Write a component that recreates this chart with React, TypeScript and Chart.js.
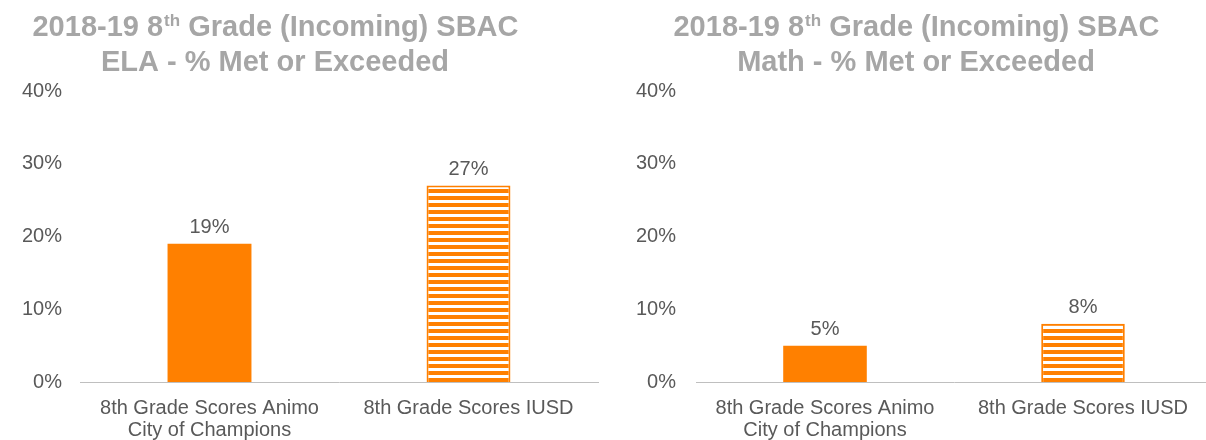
import React, { useEffect, useRef } from "react";
import { Chart, registerables } from "chart.js";

Chart.register(...registerables);

const CATEGORIES: (string | string[])[] = [
  ["8th Grade Scores Animo", "City of Champions"],
  "8th Grade Scores IUSD",
];
const ELA_VALUES = [19, 27];
const MATH_VALUES = [5, 8];
const Y_MIN = 0;
const Y_MAX = 40;
const Y_STEP = 10;
const ELA_TITLE = ["2018-19 8", "th", " Grade (Incoming) SBAC", "ELA - % Met or Exceeded"];
const MATH_TITLE = ["2018-19 8", "th", " Grade (Incoming) SBAC", "Math - % Met or Exceeded"];

const ORANGE = "#FF8000";
const TITLE_GRAY = "#A6A6A6";
const TEXT_GRAY = "#595959";
const AXIS_GRAY = "#BFBFBF";
const FONT = "'Liberation Sans', Arial, sans-serif";

function makeStripes(ctx: CanvasRenderingContext2D): CanvasPattern | string {
  const c = document.createElement("canvas");
  c.width = 8;
  c.height = 7;
  const p = c.getContext("2d");
  if (!p) return ORANGE;
  p.fillStyle = "#FFFFFF";
  p.fillRect(0, 0, 8, 7);
  p.fillStyle = ORANGE;
  p.fillRect(0, 0, 8, 4);
  return ctx.createPattern(c, "repeat") || ORANGE;
}

const titlePlugin = {
  id: "supTitle",
  afterDraw(chart: any) {
    const o = chart.options.plugins.supTitle;
    if (!o) return;
    const ctx = chart.ctx;
    const [a, sup, b, line2] = o.text as string[];
    ctx.save();
    ctx.fillStyle = TITLE_GRAY;
    ctx.textBaseline = "alphabetic";
    const big = `bold 29px ${FONT}`;
    const small = `bold 17px ${FONT}`;
    ctx.font = big;
    const wa = ctx.measureText(a).width;
    const wb = ctx.measureText(b).width;
    ctx.font = small;
    const ws = ctx.measureText(sup).width;
    const total = wa + ws + wb;
    let x = o.cx - total / 2;
    ctx.textAlign = "left";
    ctx.font = big;
    ctx.fillText(a, x, o.y1);
    x += wa;
    ctx.font = small;
    ctx.fillText(sup, x + 1, o.y1 - 10);
    x += ws + 1;
    ctx.font = big;
    ctx.fillText(b, x, o.y1);
    ctx.textAlign = "center";
    ctx.fillText(line2, o.cx, o.y2);
    ctx.restore();
  },
};

const valueLabelPlugin = {
  id: "valueLabels",
  afterDatasetsDraw(chart: any) {
    const ctx = chart.ctx;
    const ds = chart.data.datasets[0];
    const meta = chart.getDatasetMeta(0);
    ctx.save();
    ctx.fillStyle = TEXT_GRAY;
    ctx.font = `20px ${FONT}`;
    ctx.textAlign = "center";
    ctx.textBaseline = "alphabetic";
    meta.data.forEach((bar: any, i: number) => {
      ctx.fillText(`${ds.data[i]}%`, bar.x, bar.y - 11);
    });
    ctx.restore();
  },
};

function BarPanel(props: {
  values: number[];
  title: string[];
  titleCx: number;
  width: number;
  yWidth: number;
  yPad: number;
  padRight: number;
}) {
  const ref = useRef<HTMLCanvasElement>(null);
  useEffect(() => {
    const canvas = ref.current;
    if (!canvas) return;
    const ctx = canvas.getContext("2d")!;
    const stripes = makeStripes(ctx);
    const chart = new Chart(canvas, {
      type: "bar",
      data: {
        labels: CATEGORIES,
        datasets: [
          {
            data: props.values,
            backgroundColor: [ORANGE, stripes as any],
            borderColor: [ORANGE, ORANGE],
            borderWidth: [0, 2],
            borderSkipped: "bottom",
            categoryPercentage: 1,
            barPercentage: 0.324,
          },
        ],
      },
      options: {
        responsive: false,
        animation: false,
        devicePixelRatio: 1,
        layout: { padding: { top: 91, left: 0, right: props.padRight, bottom: 0 } },
        plugins: {
          legend: { display: false },
          title: { display: false },
          tooltip: { enabled: false },
          supTitle: { text: props.title, cx: props.titleCx, y1: 36, y2: 71 },
        } as any,
        scales: {
          x: {
            grid: { display: false, drawTicks: false },
            border: { display: true, color: AXIS_GRAY, width: 1 },
            ticks: {
              color: TEXT_GRAY,
              font: { family: FONT, size: 20, lineHeight: 1.1 },
              padding: 15,
              maxRotation: 0,
              autoSkip: false,
            },
            afterFit: (s: any) => {
              s.height = 58;
            },
          },
          y: {
            min: Y_MIN,
            max: Y_MAX,
            grid: { display: false, drawTicks: false },
            border: { display: false },
            ticks: {
              stepSize: Y_STEP,
              color: TEXT_GRAY,
              font: { family: FONT, size: 20 },
              padding: props.yPad,
              callback: (v: any) => `${v}%`,
            },
            afterFit: (s: any) => {
              s.width = props.yWidth;
            },
          },
        },
      },
      plugins: [titlePlugin, valueLabelPlugin],
    });
    return () => chart.destroy();
  }, []);
  return <canvas ref={ref} width={props.width} height={440} style={{ display: "block", width: props.width, height: 440 }} />;
}

export default function App() {
  return (
    <div
      style={{
        position: "fixed",
        left: 0,
        top: 0,
        width: 1206,
        height: 440,
        overflow: "hidden",
        background: "#FFFFFF",
      }}
    >
      <div style={{ position: "absolute", left: 0, top: 0 }}>
        <BarPanel values={ELA_VALUES} title={ELA_TITLE} titleCx={275} width={600} yWidth={80} yPad={18} padRight={2} />
      </div>
      <div style={{ position: "absolute", left: 616, top: 0 }}>
        <BarPanel values={MATH_VALUES} title={MATH_TITLE} titleCx={300} width={600} yWidth={80} yPad={20} padRight={4} />
      </div>
    </div>
  );
}
